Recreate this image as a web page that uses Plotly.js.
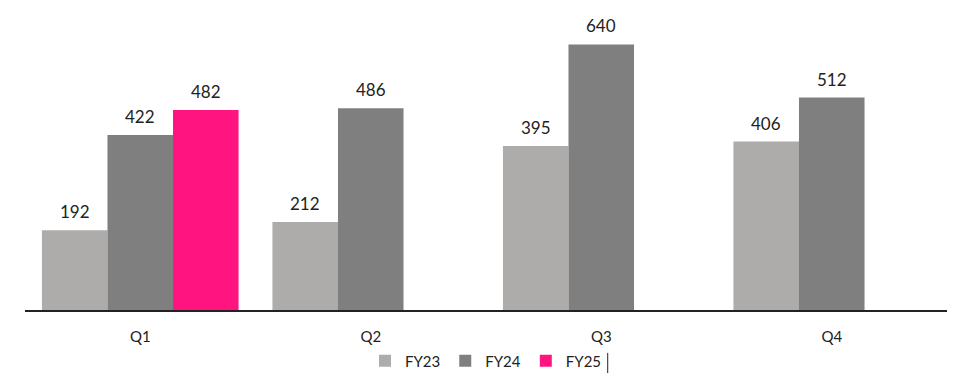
<!DOCTYPE html>
<html>
<head>
<meta charset="utf-8">
<script src="https://cdn.plot.ly/plotly-3.0.1.min.js"></script>
<style>html,body{margin:0;padding:0;background:#fff;}#chart{width:980px;height:376px;}</style>
</head>
<body>
<div id="chart"></div>
<script>
var categories = ["Q1", "Q2", "Q3", "Q4"];
var seriesNames = ["FY23", "FY24", "FY25"];
var fy23 = [192, 212, 395, 406];
var fy24 = [422, 486, 640, 512];
var fy25 = [482, null, null, null];
var colors = ["#AEABAB", "#7F7F7F", "#FF1480"];

var values = [fy23, fy24, fy25];
var W = 980, ML = 25, MR = 33, BARGAP = 0.147;
var catW = (W - ML - MR) / categories.length;
var barW = catW * (1 - BARGAP) / values.length;

var traces = values.map(function (v, i) {
  return {
    type: "bar",
    name: seriesNames[i],
    x: categories,
    y: v,
    marker: { color: colors[i] },
    hoverinfo: "none"
  };
});

var annotations = [];
values.forEach(function (v, i) {
  v.forEach(function (d, j) {
    if (d === null) return;
    annotations.push({
      x: categories[j],
      y: d,
      xref: "x",
      yref: "y",
      text: String(d),
      showarrow: false,
      xanchor: "center",
      yanchor: "bottom",
      xshift: (i - (values.length - 1) / 2) * barW,
      yshift: 6,
      font: { family: "Lato, 'Open Sans', sans-serif", size: 17, color: "#222" }
    });
  });
});

var layout = {
  width: W,
  height: 376,
  margin: { l: ML, r: MR, t: 10, b: 66, autoexpand: false },
  paper_bgcolor: "#fff",
  plot_bgcolor: "#fff",
  barmode: "group",
  bargap: BARGAP,
  bargroupgap: 0,
  font: { family: "Lato, 'Open Sans', sans-serif", color: "#222" },
  xaxis: {
    showline: true,
    linecolor: "#222",
    linewidth: 1.5,
    ticks: "",
    ticklabelstandoff: 12,
    tickfont: { size: 15, color: "#222" },
    showgrid: false,
    zeroline: false,
    automargin: false
  },
  yaxis: {
    range: [0, 723],
    visible: false,
    showgrid: false,
    zeroline: false
  },
  annotations: annotations,
  showlegend: true,
  legend: {
    orientation: "h",
    x: 0.5,
    xanchor: "center",
    y: -0.115,
    yanchor: "top",
    bgcolor: "rgba(0,0,0,0)",
    font: { size: 15, color: "#222" },
    itemwidth: 30,
    traceorder: "normal"
  },
  shapes: [{
    type: "line",
    xref: "paper",
    yref: "paper",
    x0: 0.632, x1: 0.632,
    y0: -0.143, y1: -0.21,
    line: { color: "#222", width: 1 }
  }]
};

Plotly.newPlot("chart", traces, layout, { displayModeBar: false, staticPlot: true });
</script>
</body>
</html>
